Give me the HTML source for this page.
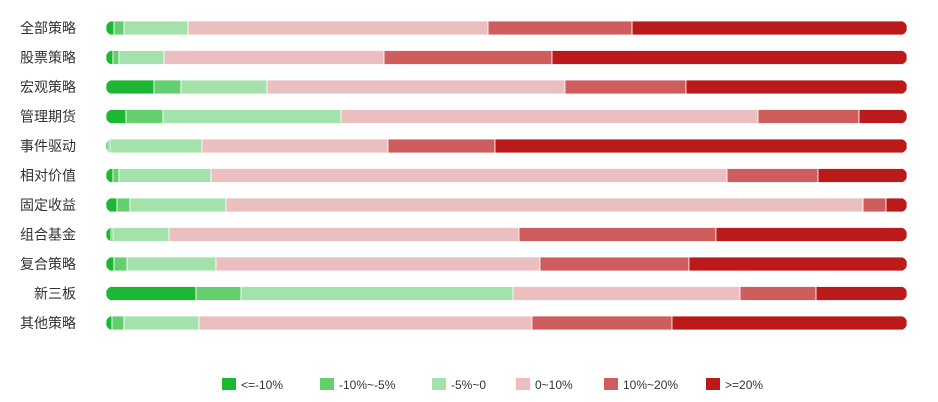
<!DOCTYPE html>
<html><head><meta charset="utf-8">
<style>
html,body{margin:0;padding:0;background:#fff;}
svg{display:block;font-family:"Liberation Sans","Noto Sans CJK SC",sans-serif;}
</style></head>
<body>
<svg id="chart" width="938" height="402" viewBox="0 0 938 402"></svg>
<script>
const categories=["全部策略","股票策略","宏观策略","管理期货","事件驱动","相对价值","固定收益","组合基金","复合策略","新三板","其他策略"];
const seriesNames=["<=-10%","-10%~-5%","-5%~0","0~10%","10%~20%",">=20%"];
const s1=[1.0,0.87,5.99,2.5,0.25,0.87,1.37,0.62,1.0,11.24,0.75];
const s2=[1.25,0.75,3.37,4.62,0.25,0.75,1.62,0.25,1.62,5.62,1.5];
const s3=[8.0,5.62,10.74,22.22,11.49,11.49,11.99,6.99,11.11,33.96,9.36];
const s4=[37.45,27.47,37.2,52.06,23.22,64.42,79.53,43.7,40.45,28.34,41.57];
const s5=[17.98,20.97,15.11,12.61,13.36,11.36,2.87,24.59,18.6,9.49,17.48];
const s6=[34.33,44.32,27.59,5.99,51.44,11.11,2.62,23.85,27.22,11.36,29.34];
const series=[s1,s2,s3,s4,s5,s6];
const colors=["#1cb833","#63cf6f","#a3e2ab","#ebbfbf","#d05d5d","#bb1a1a"];
const NS="http://www.w3.org/2000/svg";
const svg=document.getElementById("chart");
const x0=106,x1=907,rowTop=28,rowStep=29.5,barH=14;
function yPos(i){return rowTop+i*rowStep;}
function mk(t,a){const e=document.createElementNS(NS,t);for(const k in a)e.setAttribute(k,a[k]);return e;}
const defs=mk("defs",{});svg.appendChild(defs);
categories.forEach((c,i)=>{
  const yc=yPos(i);
  const total=series.reduce((s,arr)=>s+arr[i],0);
  const xs=v=>x0+(v/total)*(x1-x0);
  const cp=mk("clipPath",{id:"cp"+i});
  cp.appendChild(mk("rect",{x:x0,y:yc-barH/2,width:x1-x0,height:barH,rx:7}));
  defs.appendChild(cp);
  const g=mk("g",{"clip-path":"url(#cp"+i+")"});
  
  
  let acc=0;
  series.forEach((arr,k)=>{
    const xa=xs(acc),xb=xs(acc+arr[i]);acc+=arr[i];
    const r=mk("rect",{x:xa,y:yc-barH/2,width:Math.max(0,xb-xa),height:barH,fill:colors[k],stroke:"#fff","stroke-width":0.8});
    
    
    g.appendChild(r);
  });
  svg.appendChild(g);
  const t=mk("text",{x:76,y:yc+5,"text-anchor":"end","font-size":14,fill:"#333"});
  t.textContent=c;
  
  
  svg.appendChild(t);
});
const legX=[222,320,432,516,604,706];
seriesNames.forEach((n,k)=>{
  const g=mk("g",{});
  
  
  g.appendChild(mk("rect",{x:legX[k],y:378,width:14,height:12,fill:colors[k]}));
  const t=mk("text",{x:legX[k]+19,y:389,"font-size":12,fill:"#333"});
  t.textContent=n;
  g.appendChild(t);
  svg.appendChild(g);
});
</script>
</body></html>
